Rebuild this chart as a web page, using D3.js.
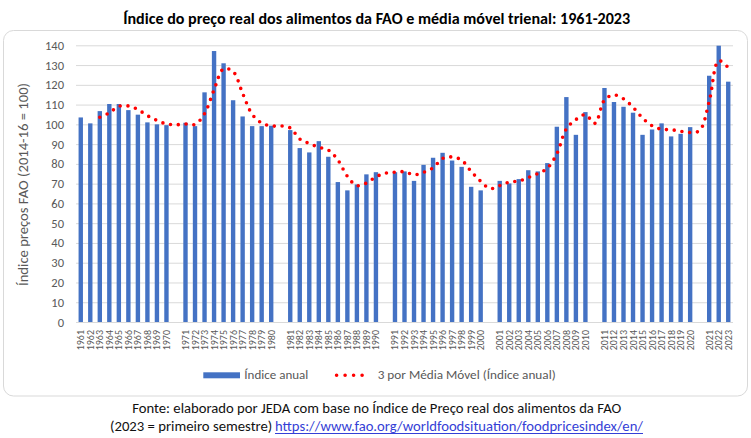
<!DOCTYPE html>
<html>
<head>
<meta charset="utf-8">
<script src="https://cdn.jsdelivr.net/npm/d3@7"></script>
<style>
    body { margin: 0; background: #fff; }
    svg { display: block; }
    text { font-family: Carlito, Calibri, Lato, sans-serif; }
</style>
</head>
<body>
<div id="chart"></div>
<script>
// category slots, "" = empty slot between decades (as in the excel sheet)
const categories = [
    "1961", "1962", "1963", "1964", "1965", "1966", "1967", "1968", "1969", "1970", "",
    "1971", "1972", "1973", "1974", "1975", "1976", "1977", "1978", "1979", "1980", "",
    "1981", "1982", "1983", "1984", "1985", "1986", "1987", "1988", "1989", "1990", "",
    "1991", "1992", "1993", "1994", "1995", "1996", "1997", "1998", "1999", "2000", "",
    "2001", "2002", "2003", "2004", "2005", "2006", "2007", "2008", "2009", "2010", "",
    "2011", "2012", "2013", "2014", "2015", "2016", "2017", "2018", "2019", "2020", "",
    "2021", "2022", "2023"
];
// Índice anual
const realIndex = [
    103.5, 100.5, 106.7, 110.3, 110.3, 107.2, 104.9, 101.0, 100.0, 99.6, null,
    100.8, 99.1, 116.2, 137.1, 130.9, 112.2, 104.0, 99.1, 99.1, 99.3, null,
    97.1, 88.0, 85.8, 91.5, 83.6, 70.8, 66.6, 69.6, 74.7, 75.8, null,
    75.8, 76.2, 71.4, 79.5, 83.1, 85.6, 81.7, 78.5, 68.4, 66.6, null,
    71.4, 70.1, 72.3, 76.8, 76.2, 80.4, 98.8, 113.8, 94.7, 106.2, null,
    118.4, 111.3, 108.9, 105.9, 94.7, 97.4, 100.5, 93.9, 95.2, 98.6, null,
    124.6, 139.8, 121.6
];
// 3 por Média Móvel, read per slot
const movingAvg = [
    null, null, 103.6, 105.8, 109.1, 109.3, 107.5, 104.4, 102.0, 100.2, 99.8,
    100.2, 100.0, 105.4, 117.5, 128.1, 126.7, 115.7, 105.1, 100.7, 99.2, 99.2,
    98.2, 92.6, 90.3, 88.4, 87.0, 82.0, 73.7, 69.0, 70.3, 73.4, 75.3,
    75.8, 76.0, 74.5, 75.7, 78.0, 82.7, 83.5, 81.9, 76.2, 71.2, 67.5,
    69.0, 70.8, 71.3, 73.1, 75.1, 77.8, 85.1, 97.7, 102.4, 104.9, 100.5,
    112.3, 114.9, 112.9, 108.7, 103.2, 99.3, 97.5, 97.3, 96.5, 95.9, 96.9,
    111.6, 132.2, 128.7
];
const yTicks = [0, 10, 20, 30, 40, 50, 60, 70, 80, 90, 100, 110, 120, 130, 140];

const width = 751, height = 438;
const plot = { left: 76, right: 733, top: 45.3, bottom: 322 };
const barColor = '#4472C4', avgColor = '#FF0000', grey = '#595959', gridColor = '#D9D9D9';

let svg = d3.select('#chart').append('svg')
    .attr('width', width)
    .attr('height', height);

// title above the box
svg.append('text')
    .attr('x', 376.7).attr('y', 23.5)
    .attr('text-anchor', 'middle')
    .attr('textLength', 507).attr('lengthAdjust', 'spacingAndGlyphs')
    .style('font-size', '15px').style('font-weight', 'bold')
    .attr('fill', '#000')
    .text('Índice do preço real dos alimentos da FAO e média móvel trienal: 1961-2023');

// chart box
svg.append('rect')
    .attr('x', 3.5).attr('y', 30.5)
    .attr('width', 744).attr('height', 365.5)
    .attr('rx', 10).attr('ry', 10)
    .attr('fill', '#fff')
    .attr('stroke', gridColor).attr('stroke-width', 1);

let x = d3.scaleBand()
    .domain(d3.range(categories.length))
    .range([plot.left, plot.right])
    .paddingInner(0.54)
    .paddingOuter(0.27);

let y = d3.scaleLinear()
    .domain([0, 140])
    .range([plot.bottom, plot.top]);

// y axis + grid
let yAxis = svg.append('g')
    .attr('transform', 'translate(' + plot.left + ',0)')
    .call(d3.axisLeft(y).tickValues(yTicks).tickSize(-(plot.right - plot.left)).tickPadding(12));
yAxis.select('.domain').remove();
yAxis.selectAll('line').attr('stroke', gridColor).attr('stroke-width', 1);
yAxis.selectAll('text')
    .attr('fill', grey)
    .style('font-size', '12.5px')
    .style('font-family', 'Carlito, Calibri, Lato, sans-serif');

// x axis, rotated year labels
let xAxis = svg.append('g')
    .attr('transform', 'translate(0,' + plot.bottom + ')')
    .call(d3.axisBottom(x).tickSize(0).tickFormat(function(i) { return categories[i]; }));
xAxis.select('.domain').remove();
xAxis.selectAll('text')
    .attr('transform', 'rotate(-90)')
    .attr('text-anchor', 'end')
    .attr('x', -8)
    .attr('y', 0)
    .attr('dy', '0.35em')
    .attr('fill', grey)
    .style('font-size', '10px')
    .style('font-family', 'Carlito, Calibri, Lato, sans-serif');

// y axis title
svg.append('text')
    .attr('transform', 'translate(28,184.5) rotate(-90)')
    .attr('text-anchor', 'middle')
    .attr('textLength', 203).attr('lengthAdjust', 'spacingAndGlyphs')
    .attr('fill', grey)
    .style('font-size', '14px')
    .text('Índice preços FAO (2014-16 = 100)');

// bars
svg.append('g').selectAll('rect')
    .data(realIndex.map(function(v, i) { return { i: i, v: v }; }).filter(function(d) { return d.v != null; }))
    .enter().append('rect')
    .attr('x', function(d) { return x(d.i); })
    .attr('y', function(d) { return y(d.v); })
    .attr('width', x.bandwidth())
    .attr('height', function(d) { return y(0) - y(d.v); })
    .attr('fill', barColor);

// moving average, round dotted line
let avgLine = d3.line()
    .defined(function(d) { return d.v != null; })
    .x(function(d) { return x(d.i) + x.bandwidth() / 2; })
    .y(function(d) { return y(d.v); })
    .curve(d3.curveCatmullRom);

svg.append('path')
    .datum(movingAvg.map(function(v, i) { return { i: i, v: v }; }))
    .attr('d', avgLine)
    .attr('fill', 'none')
    .attr('stroke', avgColor)
    .attr('stroke-width', 3.6)
    .attr('stroke-linecap', 'round')
    .attr('stroke-dasharray', '0 7.8');

// legend
let legend = svg.append('g');
legend.append('rect')
    .attr('x', 203.3).attr('y', 372.3)
    .attr('width', 36.7).attr('height', 6)
    .attr('fill', barColor);
legend.append('text')
    .attr('x', 244.3).attr('y', 379)
    .attr('textLength', 64).attr('lengthAdjust', 'spacingAndGlyphs')
    .attr('fill', grey)
    .style('font-size', '12.5px')
    .text('Índice anual');
legend.append('line')
    .attr('x1', 336.6).attr('x2', 370.6)
    .attr('y1', 375.3).attr('y2', 375.3)
    .attr('stroke', avgColor)
    .attr('stroke-width', 3.6)
    .attr('stroke-linecap', 'round')
    .attr('stroke-dasharray', '0 8.5');
legend.append('text')
    .attr('x', 377.7).attr('y', 379)
    .attr('textLength', 178).attr('lengthAdjust', 'spacingAndGlyphs')
    .attr('fill', grey)
    .style('font-size', '12.5px')
    .text('3 por Média Móvel (Índice anual)');

// source lines under the box
svg.append('text')
    .attr('x', 376.7).attr('y', 413)
    .attr('text-anchor', 'middle')
    .attr('textLength', 489).attr('lengthAdjust', 'spacingAndGlyphs')
    .attr('fill', '#111')
    .style('font-size', '14.5px')
    .text('Fonte: elaborado por JEDA com base no Índice de Preço real dos alimentos da FAO');
svg.append('text')
    .attr('x', 110).attr('y', 431)
    .attr('textLength', 162.3).attr('lengthAdjust', 'spacingAndGlyphs')
    .attr('fill', '#111')
    .style('font-size', '14.5px')
    .text('(2023 = primeiro semestre)');
svg.append('text')
    .attr('x', 275).attr('y', 431)
    .attr('textLength', 368).attr('lengthAdjust', 'spacingAndGlyphs')
    .attr('fill', '#3440D6')
    .style('font-size', '14.5px')
    .text('https://www.fao.org/worldfoodsituation/foodpricesindex/en/');
svg.append('line')
    .attr('x1', 275).attr('x2', 643)
    .attr('y1', 433.5).attr('y2', 433.5)
    .attr('stroke', '#3440D6')
    .attr('stroke-width', 1);
</script>
</body>
</html>
